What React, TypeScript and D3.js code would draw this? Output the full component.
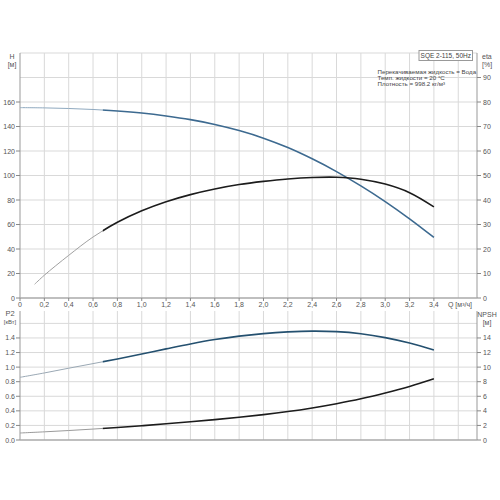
import * as d3 from "d3";
import { useMemo } from "react";

// flow points (m³/h)
const qMain = [0, 0.2, 0.4, 0.6, 0.8, 1.0, 1.2, 1.4, 1.6, 1.8, 2.0, 2.2, 2.4, 2.6, 2.8, 3.0, 3.2, 3.4];
const headH = [155.4, 155.2, 154.7, 153.9, 152.7, 151.0, 148.6, 145.6, 141.7, 136.7, 130.5, 122.8, 113.6, 103.2, 91.5, 78.7, 64.6, 49.4];
const qEta = [0.12, 0.2, 0.4, 0.6, 0.8, 1.0, 1.2, 1.4, 1.6, 1.8, 2.0, 2.2, 2.4, 2.6, 2.8, 3.0, 3.2, 3.4];
const etaPct = [5.6, 9.3, 17.4, 24.9, 30.9, 35.6, 39.3, 42.2, 44.5, 46.3, 47.6, 48.6, 49.2, 49.3, 48.5, 46.5, 43, 37.2];
const powerP2 = [0.86, 0.92, 0.985, 1.048, 1.112, 1.18, 1.25, 1.318, 1.378, 1.425, 1.46, 1.483, 1.494, 1.487, 1.458, 1.405, 1.33, 1.235];
const npsh = [0.96, 1.12, 1.3, 1.5, 1.72, 1.96, 2.22, 2.5, 2.8, 3.12, 3.48, 3.9, 4.4, 4.98, 5.65, 6.45, 7.35, 8.4];

const qTicks = [0, 0.2, 0.4, 0.6, 0.8, 1.0, 1.2, 1.4, 1.6, 1.8, 2.0, 2.2, 2.4, 2.6, 2.8, 3.0, 3.2, 3.4];
const qGrid = [...qTicks, 3.6];
const hTicks = [0, 20, 40, 60, 80, 100, 120, 140, 160];
const hGrid = [...hTicks, 180, 200];
const etaTicks = [0, 10, 20, 30, 40, 50, 60, 70, 80, 90];
const p2Ticks = [0, 0.2, 0.4, 0.6, 0.8, 1.0, 1.2, 1.4];
const p2Grid = [...p2Ticks, 1.6];
const npshTicks = [0, 2, 4, 6, 8, 10, 12, 14];

const infoLines = ["Перекачиваемая жидкость = Вода", "Темп. жидкости = 20 °C", "Плотность = 998.2 кг/м³"];

const left = 20;
const right = 477;
const upTop = 53;
const upBottom = 298;
const loTop = 311;
const loBottom = 440;
const splitQ = 0.68;
const font = "Liberation Sans, Arial, sans-serif";
const tickColor = "#555";
const gridColor = "#d9d9d9";

export default function App() {
  const x = useMemo(() => d3.scaleLinear().domain([0, 3.754]).range([left, right]), []);
  const yH = useMemo(() => d3.scaleLinear().domain([0, 200]).range([upBottom, upTop]), []);
  const yEta = useMemo(() => d3.scaleLinear().domain([0, 100]).range([upBottom, upTop]), []);
  const yP2 = useMemo(() => d3.scaleLinear().domain([0, 1.77]).range([loBottom, loTop]), []);
  const yNpsh = useMemo(() => d3.scaleLinear().domain([0, 17.7]).range([loBottom, loTop]), []);

  const mk = (xs: number[], ys: number[], sy: d3.ScaleLinear<number, number>) =>
    d3
      .line<number>()
      .x((_, i) => x(xs[i]))
      .y((d) => sy(d))
      .curve(d3.curveCatmullRom.alpha(0.5))(ys) as string;

  const curves = [
    { d: mk(qMain, headH, yH), thin: "#8fa9bf", thick: "#3d6a90" },
    { d: mk(qEta, etaPct, yEta), thin: "#a0a0a0", thick: "#1c1c1c" },
    { d: mk(qMain, powerP2, yP2), thin: "#9aa8b4", thick: "#24506f" },
    { d: mk(qMain, npsh, yNpsh), thin: "#9a9a9a", thick: "#1c1c1c" },
  ];

  const xs = x(splitQ);

  return (
    <svg
      width={500}
      height={500}
      style={{ position: "fixed", top: 0, left: 0, background: "#fff" }}
      fontFamily={font}
    >
      <defs>
        <clipPath id="thinPart">
          <rect x={0} y={0} width={xs} height={500} />
        </clipPath>
        <clipPath id="thickPart">
          <rect x={xs} y={0} width={500 - xs} height={500} />
        </clipPath>
      </defs>

      {/* grids */}
      {qGrid.slice(1).map((q) => (
        <g key={"vg" + q}>
          <line x1={x(q)} x2={x(q)} y1={upTop} y2={upBottom} stroke={gridColor} />
          <line x1={x(q)} x2={x(q)} y1={loTop} y2={loBottom} stroke={gridColor} />
        </g>
      ))}
      {hGrid.slice(1).map((h) => (
        <line key={"hg" + h} x1={left} x2={right} y1={yH(h)} y2={yH(h)} stroke={gridColor} />
      ))}
      {p2Grid.slice(1).map((p) => (
        <line key={"pg" + p} x1={left} x2={right} y1={yP2(p)} y2={yP2(p)} stroke={gridColor} />
      ))}

      {/* axes frames */}
      <line x1={left} x2={left} y1={upTop} y2={upBottom} stroke="#999" />
      <line x1={right} x2={right} y1={upTop} y2={upBottom} stroke="#999" />
      <line x1={left} x2={right} y1={upBottom} y2={upBottom} stroke="#aaa" strokeWidth={1.5} />
      <line x1={left} x2={left} y1={loTop} y2={loBottom} stroke="#999" />
      <line x1={right} x2={right} y1={loTop} y2={loBottom} stroke="#999" />
      <line x1={left} x2={right} y1={loBottom} y2={loBottom} stroke="#aaa" strokeWidth={1.5} />

      {/* ticks and labels */}
      <g fontSize={7} fill={tickColor}>
        {hTicks.map((h) => (
          <g key={"ht" + h}>
            <line x1={left - 4} x2={left} y1={yH(h)} y2={yH(h)} stroke="#888" />
            <text x={left - 5} y={yH(h) + 2.5} textAnchor="end">{h}</text>
          </g>
        ))}
        {etaTicks.map((e) => (
          <g key={"et" + e}>
            <line x1={right} x2={right + 4} y1={yEta(e)} y2={yEta(e)} stroke="#888" />
            <text x={right + 6} y={yEta(e) + 2.5}>{e}</text>
          </g>
        ))}
        {p2Ticks.map((p) => (
          <g key={"pt" + p}>
            <line x1={left - 4} x2={left} y1={yP2(p)} y2={yP2(p)} stroke="#888" />
            <text x={left - 5} y={yP2(p) + 2.5} textAnchor="end">{p.toFixed(1)}</text>
          </g>
        ))}
        {npshTicks.map((n) => (
          <g key={"nt" + n}>
            <line x1={right} x2={right + 4} y1={yNpsh(n)} y2={yNpsh(n)} stroke="#888" />
            <text x={right + 6} y={yNpsh(n) + 2.5}>{n}</text>
          </g>
        ))}
        {qTicks.map((q) => (
          <g key={"qt" + q}>
            <line x1={x(q)} x2={x(q)} y1={upBottom} y2={upBottom + 3} stroke="#888" />
            <text x={x(q)} y={upBottom + 9} textAnchor="middle">
              {q === 0 ? "0" : q.toFixed(1).replace(".", ",")}
            </text>
          </g>
        ))}
        <text x={472} y={upBottom + 9} textAnchor="end">Q [м³/ч]</text>

        <text x={12} y={58.5} textAnchor="middle">H</text>
        <text x={12} y={66.5} textAnchor="middle">[м]</text>
        <text x={482} y={58.5}>eta</text>
        <text x={482} y={66.5}>[%]</text>
        <text x={10} y={315.5} textAnchor="middle" fontSize={7.5}>P2</text>
        <text x={10} y={324} textAnchor="middle" fontSize={6}>[кВт]</text>
        <text x={487} y={316.5} textAnchor="middle">NPSH</text>
        <text x={487} y={325} textAnchor="middle">[м]</text>
      </g>

      {/* curves */}
      {curves.map((c, i) => (
        <g key={"c" + i} fill="none">
          <path d={c.d} stroke={c.thin} strokeWidth={1} clipPath="url(#thinPart)" />
          <path d={c.d} stroke={c.thick} strokeWidth={1.6} clipPath="url(#thickPart)" />
        </g>
      ))}

      {/* info box */}
      <rect x={419} y={50.5} width={53.5} height={10} fill="#fff" stroke="#999" />
      <text x={445.8} y={58} textAnchor="middle" fontSize={6.5} fill="#444">SQE 2-115, 50Hz</text>
      <g fontSize={6.2} fill="#444">
        {infoLines.map((t, i) => (
          <text key={t} x={377.5} y={73.5 + i * 6}>{t}</text>
        ))}
      </g>
    </svg>
  );
}
